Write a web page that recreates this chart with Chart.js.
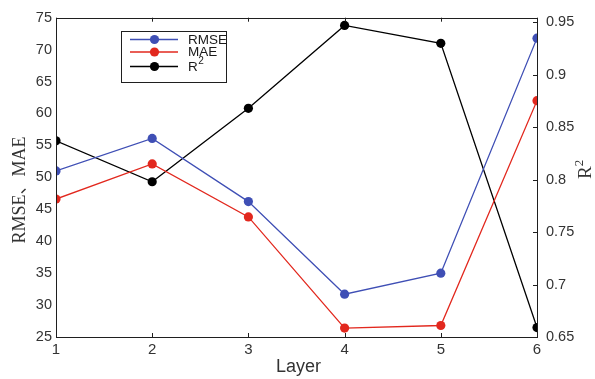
<!DOCTYPE html>
<html>
<head>
<meta charset="utf-8">
<script src="https://cdn.jsdelivr.net/npm/chart.js@4"></script>
<style>
  html, body { margin: 0; padding: 0; background: #fff; }
  canvas { display: block; }
</style>
</head>
<body>
<canvas id="layerChart" width="595" height="379"></canvas>
<script>
// layer index on the x axis
const layers = [1, 2, 3, 4, 5, 6];

// error metrics, left axis
const rmse = [51.0, 56.1, 46.2, 31.7, 35.0, 71.8];
const mae = [46.6, 52.1, 43.8, 26.4, 26.8, 62.0];

// coefficient of determination, right axis
const r2 = [0.837, 0.798, 0.868, 0.947, 0.930, 0.659];

const xTicks = [1, 2, 3, 4, 5, 6];
const leftTicks = [25, 30, 35, 40, 45, 50, 55, 60, 65, 70, 75];
const rightTicks = [0.65, 0.7, 0.75, 0.8, 0.85, 0.9, 0.95];

const colors = {
    blue: '#3F4FB5',
    red: '#E2281E',
    black: '#000000',
    axis: '#1f1f1f',
    text: '#333333'
};

const sansFont = "'Liberation Sans', Arial, Helvetica, sans-serif";
const serifFont = "'Liberation Serif', 'Times New Roman', 'Noto Sans CJK SC', serif";

function toPoints(values) {
    return values.map((v, i) => ({ x: layers[i], y: v }));
}

function series(label, values, color, axis) {
    return {
        label: label,
        data: toPoints(values),
        yAxisID: axis,
        borderColor: color,
        backgroundColor: color,
        pointBackgroundColor: color,
        pointBorderColor: color,
        pointBorderWidth: 0,
        pointRadius: 4.6,
        pointHoverRadius: 4.6,
        borderWidth: 1.3,
        tension: 0
    };
}

// box, inward ticks, axis titles and the inset legend
const framePlugin = {
    id: 'frame',
    afterDatasetsDraw(chart) {
        const ctx = chart.ctx;
        const area = chart.chartArea;
        const xs = chart.scales.x;
        const yr = chart.scales.y1;

        ctx.save();
        ctx.strokeStyle = colors.axis;
        ctx.lineWidth = 1;
        ctx.strokeRect(Math.round(area.left) + 0.5, Math.round(area.top) + 0.5,
            Math.round(area.right - area.left), Math.round(area.bottom - area.top));

        ctx.beginPath();
        xTicks.forEach(v => {
            const px = Math.round(xs.getPixelForValue(v)) + 0.5;
            ctx.moveTo(px, area.bottom);
            ctx.lineTo(px, area.bottom - 4);
            ctx.moveTo(px, area.top);
            ctx.lineTo(px, area.top + 4);
        });
        rightTicks.forEach(v => {
            const py = Math.round(yr.getPixelForValue(v)) + 0.5;
            ctx.moveTo(area.right, py);
            ctx.lineTo(area.right - 4, py);
        });
        ctx.stroke();

        // axis titles
        ctx.fillStyle = colors.text;
        ctx.textAlign = 'center';
        ctx.textBaseline = 'alphabetic';
        ctx.font = '18px ' + sansFont;
        ctx.fillText('Layer', (area.left + area.right) / 2 + 2, 372);

        ctx.save();
        ctx.translate(25, 190);
        ctx.rotate(-Math.PI / 2);
        ctx.font = '18px ' + serifFont;
        ctx.fillText('RMSE、MAE', 0, 0);
        ctx.restore();

        ctx.save();
        ctx.translate(591, 169);
        ctx.rotate(-Math.PI / 2);
        ctx.textAlign = 'left';
        ctx.font = '19px ' + serifFont;
        const rw = ctx.measureText('R').width;
        ctx.fillText('R', -10, 0);
        ctx.font = '13px ' + serifFont;
        ctx.fillText('2', -10 + rw, -8);
        ctx.restore();

        // legend
        const box = { x: 121.5, y: 31.5, w: 105, h: 51 };
        ctx.fillStyle = '#ffffff';
        ctx.fillRect(box.x, box.y, box.w, box.h);
        ctx.strokeStyle = colors.axis;
        ctx.strokeRect(box.x, box.y, box.w, box.h);

        const rows = [39.5, 52, 66.5];
        chart.data.datasets.forEach((ds, i) => {
            const y = rows[i];
            ctx.strokeStyle = ds.borderColor;
            ctx.lineWidth = 1.4;
            ctx.beginPath();
            ctx.moveTo(130, y);
            ctx.lineTo(178, y);
            ctx.stroke();
            ctx.fillStyle = ds.borderColor;
            ctx.beginPath();
            ctx.arc(154.5, y, 4.6, 0, Math.PI * 2);
            ctx.fill();

            ctx.fillStyle = '#1a1a1a';
            ctx.textAlign = 'left';
            ctx.textBaseline = 'middle';
            ctx.font = '13.5px ' + sansFont;
            if (ds.label === 'R2') {
                ctx.fillText('R', 188, y + 0.5);
                const w = ctx.measureText('R').width;
                ctx.font = '10px ' + sansFont;
                ctx.fillText('2', 188 + w + 0.5, y - 5);
            } else {
                ctx.fillText(ds.label, 188, y + 0.5);
            }
        });
        ctx.restore();
    }
};

const ctx = document.getElementById('layerChart').getContext('2d');

new Chart(ctx, {
    type: 'line',
    data: {
        datasets: [
            series('RMSE', rmse, colors.blue, 'y'),
            series('MAE', mae, colors.red, 'y'),
            series('R2', r2, colors.black, 'y1')
        ]
    },
    options: {
        responsive: false,
        animation: false,
        events: [],
        layout: { padding: { top: 14, left: 0, right: 0, bottom: 0 } },
        plugins: {
            legend: { display: false },
            tooltip: { enabled: false }
        },
        scales: {
            x: {
                type: 'linear',
                position: 'bottom',
                min: 1,
                max: 6,
                grid: { display: false, drawTicks: false },
                border: { display: false },
                afterBuildTicks: scale => { scale.ticks = xTicks.map(v => ({ value: v })); },
                afterFit: scale => { scale.height = 42; },
                ticks: {
                    padding: 4,
                    color: colors.text,
                    font: { family: sansFont, size: 15 },
                    callback: v => String(v)
                }
            },
            y: {
                type: 'linear',
                position: 'left',
                min: 25,
                max: 75,
                grid: { display: false, drawTicks: false },
                border: { display: false },
                afterBuildTicks: scale => { scale.ticks = leftTicks.map(v => ({ value: v })); },
                afterFit: scale => { scale.width = 56; },
                ticks: {
                    padding: 4,
                    color: colors.text,
                    font: { family: sansFont, size: 14.5 },
                    callback: v => String(v)
                }
            },
            y1: {
                type: 'linear',
                position: 'right',
                min: 0.65,
                max: 0.9544,
                grid: { display: false, drawTicks: false },
                border: { display: false },
                afterBuildTicks: scale => { scale.ticks = rightTicks.map(v => ({ value: v })); },
                afterFit: scale => { scale.width = 58; },
                ticks: {
                    padding: 9,
                    color: colors.text,
                    font: { family: sansFont, size: 14.5 },
                    callback: v => String(v)
                }
            }
        }
    },
    plugins: [framePlugin]
});
</script>
</body>
</html>
